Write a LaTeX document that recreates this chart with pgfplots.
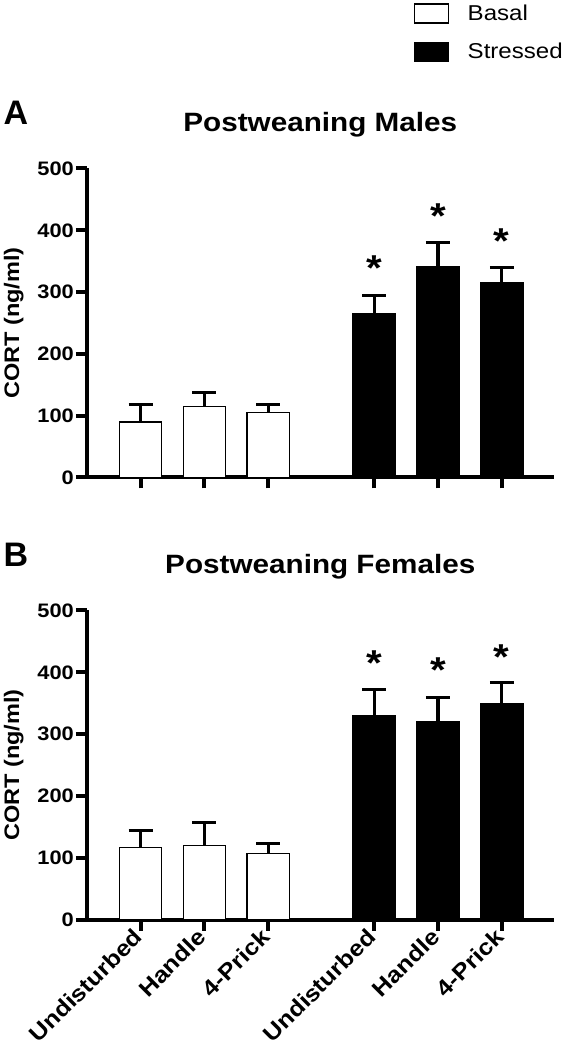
\documentclass[border=0pt]{standalone}
\usepackage{fontspec}
\setmainfont{Liberation Sans}[FakeStretch=1.12]
\newfontfamily\plainsans{Liberation Sans}
\usepackage{pgfplots}
\pgfplotsset{compat=1.18}

\pgfplotsset{
  panel/.style={
    scale only axis, width=466.5pt, height=309pt,
    xmin=-0.84, xmax=6.47, ymin=0, ymax=500,
    axis x line=bottom, axis y line=left,
    axis line style={-, line width=4pt, black},
    ytick={0,100,200,300,400,500},
    xtick={0,1,2,3.66,4.66,5.66},
    tick align=outside, major tick length=11pt,
    tick style={line width=4pt, black},
    /pgf/number format/assume math mode=true,
    yticklabel style={font=\bfseries\fontsize{19.5}{21}\selectfont, inner sep=2pt},
    every axis y label/.style={at={(axis description cs:-0.157,0.5)}, rotate=90, anchor=center,
      font=\bfseries\fontsize{21}{22}\selectfont},
    ylabel={CORT (ng/ml)},
    every axis title/.style={at={(axis description cs:0.5,1)}, anchor=base, yshift=37pt,
      font=\bfseries\fontsize{26.5}{28}\selectfont},
    clip=false,
  },
  basal/.style={ybar, bar width=0.663, bar shift=0pt, fill=white, draw=black, line width=1.2pt,
    legend image code/.code={\draw[fill=white, draw=black, line width=1.2pt] (0pt,-9.5pt) rectangle (34pt,9.5pt);},
    error bars/.cd, y dir=plus, y explicit,
    error bar style={line width=3.2pt, black},
    error mark options={rotate=90, line width=3pt, mark size=12pt, black}},
  stressed/.style={ybar, bar width=0.663, bar shift=0pt, fill=black, draw=black, line width=1.2pt,
    legend image code/.code={\draw[fill=black, draw=black, line width=1.2pt] (0pt,-9.5pt) rectangle (34pt,9.5pt);},
    error bars/.cd, y dir=plus, y explicit,
    error bar style={line width=3.2pt, black},
    error mark options={rotate=90, line width=3pt, mark size=12pt, black}},
  stars/.style={only marks, mark=*, mark size=0pt, mark options={draw=none, fill=none}, forget plot,
    nodes near coords={*},
    every node near coord/.append style={anchor=center, yshift=-7.7pt, inner sep=0pt,
      font=\bfseries\fontsize{36}{36}\selectfont}},
}

\begin{document}
\begin{tikzpicture}
\useasboundingbox (0,0) rectangle (570pt,1050pt);

% Panel A
\begin{axis}[panel, at={(87pt,572.5pt)}, anchor=south west,
  title={Postweaning Males}, xticklabels={},
  legend style={draw=none, fill=none, at={(axis description cs:0.6995,1.535)}, anchor=north west,
    font=\fontsize{21.5}{22}\selectfont, row sep=18pt, column sep=19pt, inner sep=0pt,
    nodes={inner sep=0pt}},
  legend cell align=left]
\addplot[basal] coordinates {(0,89.8) +- (0,28.5) (1,114.5) +- (0,22.6) (2,104.8) +- (0,12.9)};
\addlegendentry{Basal}
\addplot[stressed] coordinates {(3.66,266) +- (0,29) (4.66,341.7) +- (0,39.3) (5.66,314.7) +- (0,24.3)};
\addlegendentry{Stressed}
\addplot[stars] coordinates {(3.66,351) (4.66,435) (5.66,395)};
\node[font=\plainsans\bfseries\fontsize{34}{36}\selectfont, anchor=base west, inner sep=0pt]
  at (axis description cs:-0.179,1.142) {A};
\end{axis}

% Panel B
\begin{axis}[panel, at={(87pt,130.5pt)}, anchor=south west,
  title={Postweaning Females},
  xticklabels={Undisturbed,Handle,4-Prick,Undisturbed,Handle,4-Prick},
  xticklabel style={rotate=45, anchor=east, font=\bfseries\fontsize{22.5}{24}\selectfont}]
\addplot[basal] coordinates {(0,116.4) +- (0,27) (1,119.1) +- (0,38) (2,106.2) +- (0,16.2)};
\addplot[stressed] coordinates {(3.66,330.4) +- (0,41.6) (4.66,320.7) +- (0,38.9) (5.66,349.3) +- (0,34.7)};
\addplot[stars] coordinates {(3.66,427) (4.66,416) (5.66,437)};
\node[font=\plainsans\bfseries\fontsize{34}{36}\selectfont, anchor=base west, inner sep=0pt]
  at (axis description cs:-0.179,1.142) {B};
\end{axis}
\end{tikzpicture}
\end{document}
